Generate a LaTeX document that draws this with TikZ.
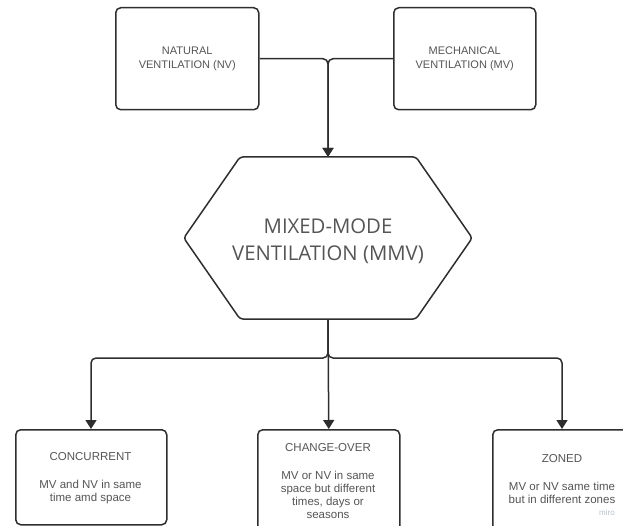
\documentclass[tikz,border=0pt]{standalone}
\usepackage{fontspec}
\setmainfont{Liberation Sans}
\newfontfamily\hexfont{Open Sans}
\usetikzlibrary{arrows.meta}
\definecolor{linegray}{HTML}{2E2E2E}
\definecolor{textgray}{HTML}{555555}
\definecolor{mirogray}{HTML}{B8C0CC}
\begin{document}
\begin{tikzpicture}[x=1pt,y=-1pt,
  box/.style={draw=linegray, line width=1.5pt, rounded corners=5pt, fill=white,
    anchor=north west, inner sep=0pt},
  label/.style={text=textgray, align=center, font=\fontsize{11.5}{13}\selectfont},
  link/.style={draw=linegray, line width=1.5pt, rounded corners=5pt,
    -{Triangle[width=11pt,length=9pt]}},
]
\useasboundingbox (0,0) rectangle (623,526);

% source boxes
\node[box, minimum width=143pt, minimum height=102pt] (nv) at (115,7) {};
\node[label, font=\fontsize{11}{14}\selectfont] at (nv.center) {NATURAL\\VENTILATION (NV)};
\node[box, minimum width=142pt, minimum height=102pt] (mv) at (393,7) {};
\node[label, font=\fontsize{11}{14}\selectfont] at (mv.center) {MECHANICAL\\VENTILATION (MV)};

% central hexagon
\node[minimum width=288pt, minimum height=162pt, inner sep=0pt] (mmv) at (328,238) {};
\draw[linegray, line width=1.5pt, rounded corners=3pt]
  (mmv.west) -- (240,157) -- (416,157) -- (mmv.east) -- (416,319) -- (240,319) -- cycle;
\node[label, font=\hexfont\fontsize{20.3}{27}\selectfont]
  at (328,241) {MIXED-MODE\\VENTILATION (MMV)};

% strategy boxes
\node[box, minimum width=151pt, minimum height=95pt] (conc) at (15,429) {};
\node[label, anchor=north] at (90.5,449)
  {CONCURRENT\\[15pt]MV and NV in same\\time amd space};
\node[box, minimum width=142pt, minimum height=110pt] (chg) at (257,429) {};
\node[label, anchor=north] at (328,440)
  {CHANGE-OVER\\[15pt]MV or NV in same\\space but different\\times, days or\\seasons};
\node[box, minimum width=150pt, minimum height=110pt] (zon) at (492,429) {};
\node[label, anchor=north] at (562,451)
  {ZONED\\[15pt]MV or NV same time\\but in different zones};
\node[text=mirogray, font=\fontsize{8}{9}\selectfont] (miro) at (607,513) {miro};

% connectors
\coordinate (split) at (328,358);
\draw[link] (nv.east) -| (mmv.north);
\draw[link] (mv.west) -| (mmv.north);
\draw[link] (mmv.south) -- (split) -| (conc.north -| 91,0);
\draw[link] (mmv.south) -- (chg.north);
\draw[link] (mmv.south) -- (split) -| (zon.north -| 562,0);
\end{tikzpicture}
\end{document}
